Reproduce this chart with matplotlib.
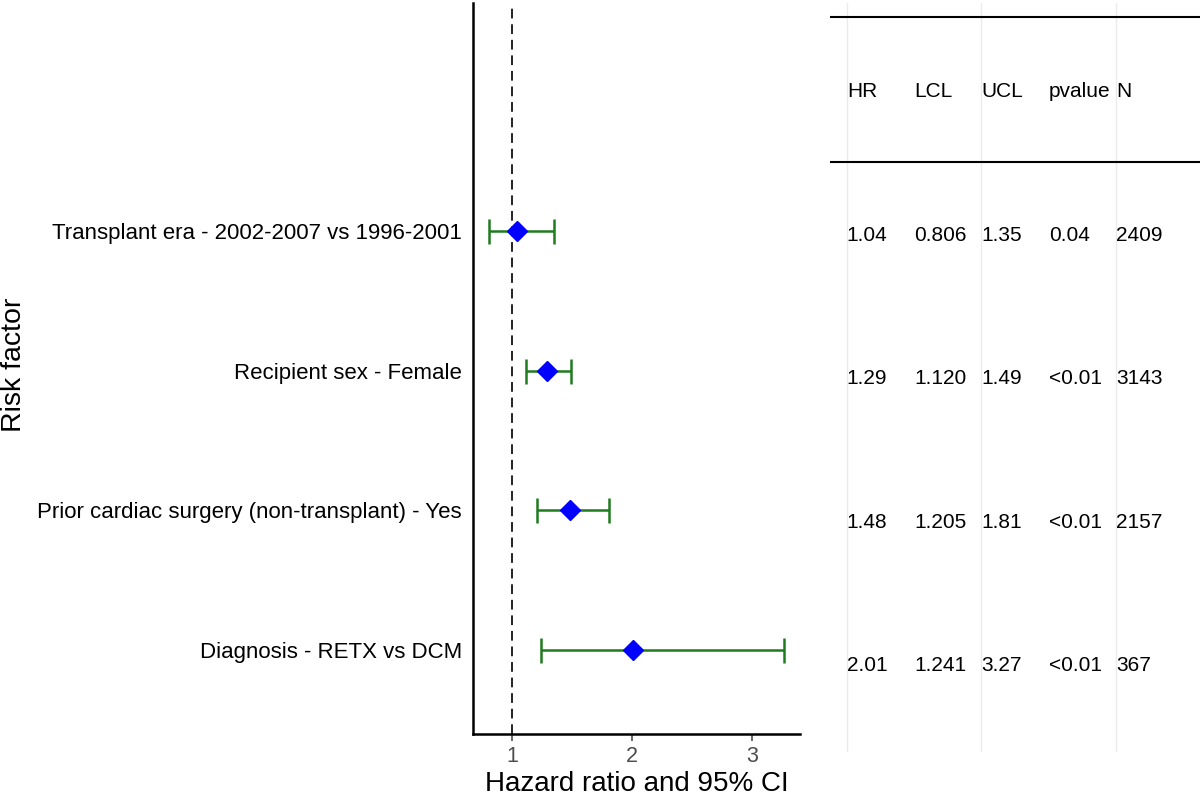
import matplotlib
matplotlib.use("Agg")
import matplotlib.pyplot as plt

plt.rcParams['font.family'] = ['Liberation Sans', 'DejaVu Sans']

# forest plot data (top row first)
factors = ["Transplant era - 2002-2007 vs 1996-2001",
           "Recipient sex - Female",
           "Prior cardiac surgery (non-transplant) - Yes",
           "Diagnosis - RETX vs DCM"]
hr = [1.04, 1.29, 1.48, 2.01]
lcl = [0.806, 1.120, 1.205, 1.241]
ucl = [1.35, 1.49, 1.81, 3.27]
hr_txt = ["1.04", "1.29", "1.48", "2.01"]
lcl_txt = ["0.806", "1.120", "1.205", "1.241"]
ucl_txt = ["1.35", "1.49", "1.81", "3.27"]
pvalue_txt = ["0.04", "<0.01", "<0.01", "<0.01"]
n_txt = ["2409", "3143", "2157", "367"]
headers = ["HR", "LCL", "UCL", "pvalue", "N"]

W, H = 1200, 797
fig = plt.figure(figsize=(W / 100, H / 100), dpi=100)

# ---- forest plot panel ----
ax = fig.add_axes([473 / W, 63 / H, 327 / W, 731 / H])
ypos = [len(factors) - i for i in range(len(factors))]
xerr = [[h - l for h, l in zip(hr, lcl)], [u - h for h, u in zip(hr, ucl)]]
ax.errorbar(hr, ypos, xerr=xerr, fmt='none', ecolor='#1e7b1e',
            elinewidth=1.8, capsize=9, capthick=1.8, zorder=2)
ax.plot(hr, ypos, 'D', color='#0000ff', markersize=10.5, zorder=3)
ax.axvline(1, color='#222222', linestyle=(0, (5, 3)), linewidth=1.4, zorder=1)

ax.set_xlim(0.675, 3.4)
ax.set_ylim(0.40, 5.63)
ax.set_xticks([1, 2, 3])
ax.set_yticks(ypos)
ax.set_yticklabels(factors)
ax.tick_params(axis='x', colors='#4d4d4d', labelsize=15.5, length=5, width=1.2)
ax.tick_params(axis='y', length=0, labelsize=16, labelcolor='black', pad=8)
for s in ['top', 'right']:
    ax.spines[s].set_visible(False)
for s in ['left', 'bottom']:
    ax.spines[s].set_linewidth(1.8)
ax.set_xlabel("Hazard ratio and 95% CI", fontsize=20, labelpad=3)
fig.text(14 / W, 1 - 365 / H, "Risk factor", rotation=90, fontsize=20.5,
         ha='center', va='center')

# ---- table panel ----
tx = fig.add_axes([830 / W, 45 / H, 370 / W, 749 / H])
tx.set_xlim(-0.25, 5.25)
tx.set_ylim(4.6, -0.62)
tx.set_xticks([0, 2, 4])
tx.set_yticks([])
tx.grid(axis='x', color='#ebebeb', linewidth=1)
tx.tick_params(axis='x', length=0, labelbottom=False)
for s in tx.spines.values():
    s.set_visible(False)
tx.axhline(-0.523, color='black', linewidth=1.5)
tx.axhline(0.488, color='black', linewidth=1.5)

for j, h in enumerate(headers):
    tx.text(j, 0, h, fontsize=15, ha='left', va='center')
columns = [hr_txt, lcl_txt, ucl_txt, pvalue_txt, n_txt]
for j, col in enumerate(columns):
    for i, val in enumerate(col):
        tx.text(j, i + 1, val, fontsize=15, ha='left', va='center')

fig.savefig("out.png", dpi=100)
